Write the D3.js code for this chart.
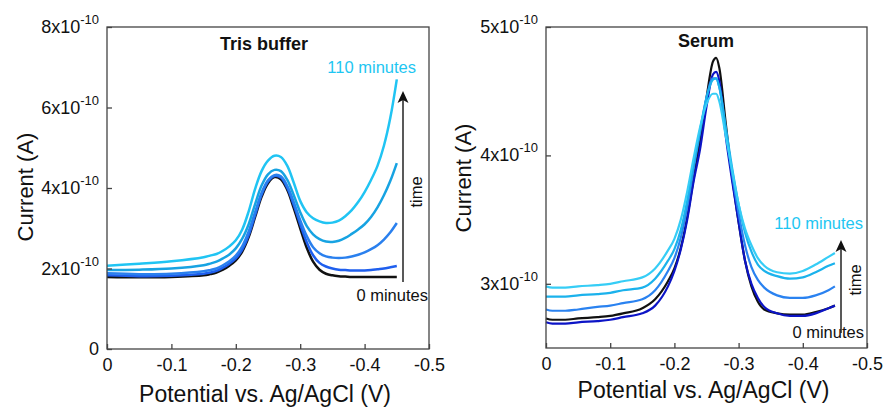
<!DOCTYPE html>
<html><head><meta charset="utf-8">
<script src="https://cdn.jsdelivr.net/npm/d3@7"></script>
<style>body{margin:0;background:#fff} svg{display:block;font-family:"Liberation Sans",Arial,sans-serif}</style>
</head><body><svg id="c" width="883" height="407"></svg>
<script>
// ---------- DATA (currents in units of 1e-10 A, potentials in V) ----------
const trisPotential = [0,-0.05,-0.1,-0.15,-0.16,-0.17,-0.18,-0.19,-0.2,-0.21,-0.22,-0.23,-0.24,-0.25,-0.26,-0.27,-0.28,-0.29,-0.3,-0.31,-0.32,-0.33,-0.34,-0.35,-0.36,-0.37,-0.38,-0.39,-0.4,-0.41,-0.42,-0.43,-0.44,-0.45];
const tris0min   = [1.79,1.78,1.79,1.83,1.86,1.90,1.97,2.07,2.20,2.42,2.78,3.28,3.78,4.12,4.27,4.22,3.95,3.50,3.00,2.52,2.17,1.97,1.87,1.83,1.81,1.80,1.79,1.79,1.79,1.79,1.79,1.79,1.79,1.79];
const trisT2     = [1.83,1.81,1.82,1.87,1.90,1.94,2.02,2.12,2.25,2.47,2.83,3.33,3.83,4.16,4.30,4.26,4.00,3.58,3.10,2.66,2.33,2.14,2.05,2.00,1.97,1.96,1.95,1.95,1.95,1.96,1.98,2.00,2.03,2.06];
const trisT3     = [1.88,1.86,1.87,1.93,1.96,2.00,2.08,2.18,2.32,2.55,2.92,3.40,3.88,4.19,4.32,4.29,4.05,3.65,3.20,2.81,2.53,2.38,2.30,2.27,2.26,2.27,2.30,2.34,2.40,2.48,2.58,2.72,2.90,3.13];
const trisT4     = [1.96,1.97,2.00,2.08,2.12,2.17,2.25,2.35,2.50,2.74,3.10,3.60,4.06,4.34,4.45,4.42,4.20,3.82,3.40,3.06,2.85,2.73,2.67,2.66,2.69,2.76,2.86,2.97,3.10,3.28,3.52,3.82,4.18,4.62];
const tris110min = [2.07,2.12,2.18,2.28,2.32,2.36,2.44,2.55,2.70,2.97,3.42,3.98,4.42,4.68,4.80,4.77,4.55,4.13,3.68,3.40,3.25,3.17,3.13,3.14,3.19,3.30,3.45,3.65,3.90,4.20,4.55,5.05,5.75,6.70];

const serumPotential = [0,-0.01,-0.03,-0.05,-0.08,-0.1,-0.12,-0.15,-0.17,-0.19,-0.2,-0.21,-0.22,-0.23,-0.24,-0.25,-0.26,-0.265,-0.27,-0.28,-0.29,-0.3,-0.31,-0.32,-0.33,-0.34,-0.36,-0.38,-0.4,-0.42,-0.44,-0.45];
const serum0min   = [2.73,2.72,2.72,2.73,2.74,2.75,2.77,2.81,2.88,3.02,3.12,3.28,3.52,3.82,4.12,4.45,4.73,4.76,4.68,4.25,3.83,3.48,3.18,2.98,2.86,2.80,2.77,2.76,2.76,2.78,2.81,2.83];
const serumT2     = [2.70,2.69,2.69,2.70,2.71,2.72,2.74,2.77,2.83,2.98,3.10,3.27,3.50,3.80,4.05,4.38,4.63,4.65,4.58,4.15,3.80,3.48,3.18,3.00,2.89,2.82,2.77,2.75,2.75,2.77,2.81,2.83];
const serumT3     = [2.80,2.79,2.79,2.80,2.82,2.83,2.85,2.88,2.95,3.10,3.20,3.36,3.60,3.90,4.18,4.45,4.60,4.60,4.53,4.20,3.85,3.55,3.30,3.13,3.03,2.97,2.91,2.89,2.89,2.91,2.95,2.98];
const serumT4     = [2.90,2.90,2.90,2.91,2.92,2.93,2.95,2.97,3.04,3.18,3.27,3.42,3.65,3.93,4.20,4.45,4.59,4.60,4.53,4.22,3.90,3.62,3.40,3.25,3.15,3.10,3.06,3.04,3.05,3.09,3.14,3.16];
const serum110min = [2.98,2.97,2.97,2.98,2.99,3.00,3.02,3.05,3.12,3.26,3.35,3.50,3.72,3.98,4.22,4.40,4.48,4.48,4.42,4.15,3.88,3.62,3.43,3.30,3.20,3.14,3.09,3.08,3.10,3.15,3.21,3.24];

const xTicks = [0,-0.1,-0.2,-0.3,-0.4,-0.5];
const xTickLabels = ["0","-0.1","-0.2","-0.3","-0.4","-0.5"];
const trisYTicks = [0,2,4,6,8];
const trisYTickLabels = ["0","2","4","6","8"];
const serumYTicks = [3,4,5];
const serumYTickLabels = ["3","4","5"];

// ---------- STYLES ----------
const trisColors  = ["#111111","#1f5fee","#2a80ee","#17a3e2","#20c4f3"];
const serumColors = ["#111111","#0c14c6","#2a82f0","#1bb2ec","#36cdf6"];
const cyanText = "#1ec6f2";

const svg = d3.select("#c");

function panel(o){
  const g = svg.append("g");
  const x = d3.scaleLinear().domain([0,-0.5]).range([o.x0,o.x1]);
  const y = d3.scaleLinear().domain(o.yDomain).range([o.y0,o.y1]);
  const line = d3.line().x((d,i)=>x(o.pot[i])).y(d=>y(d)).curve(o.curve);
  o.series.forEach((s,i)=>{
    g.append("path").attr("d",line(s)).attr("fill","none")
     .attr("stroke",o.colors[i]).attr("stroke-width",o.lw).attr("stroke-linejoin","round");
  });
  g.append("rect").attr("x",o.x0).attr("y",o.y1).attr("width",o.x1-o.x0).attr("height",o.y0-o.y1)
   .attr("fill","none").attr("stroke","#444").attr("stroke-width",1.3);
  const xa = g.append("g").attr("transform",`translate(0,${o.y0})`)
    .call(d3.axisBottom(x).tickValues(xTicks).tickSizeInner(-5).tickSizeOuter(0).tickPadding(9)
      .tickFormat((d,i)=>xTickLabels[i]));
  xa.select(".domain").remove();
  xa.selectAll("line").attr("stroke","#444").attr("stroke-width",1.3);
  xa.selectAll("text").attr("font-size",18).attr("fill","#111").attr("font-family","Liberation Sans, Arial, sans-serif");
  const ya = g.append("g").attr("transform",`translate(${o.x0},0)`)
    .call(d3.axisLeft(y).tickValues(o.yTicks).tickSizeInner(-5).tickSizeOuter(0).tickFormat(""));
  ya.select(".domain").remove();
  ya.selectAll("line").attr("stroke","#444").attr("stroke-width",1.3);
  o.yTicks.forEach((t,i)=>{
    const tx = g.append("text").attr("x",o.x0-8).attr("y",y(t)+6).attr("text-anchor","end")
      .attr("font-size",18).attr("fill","#111");
    if(t===0){ tx.text(o.yLabels[i]); }
    else {
      tx.append("tspan").text(o.yLabels[i]+"x10");
      tx.append("tspan").attr("dy",-9).attr("font-size",13).text("-10");
    }
  });
  g.append("text").attr("x",(o.x0+o.x1)/2-3).attr("y",o.xTitleY).attr("text-anchor","middle")
   .attr("font-size",23).attr("fill","#111").text("Potential vs. Ag/AgCl (V)");
  g.append("text").attr("transform",`translate(${o.yTitleX},${o.yTitleCY}) rotate(-90)`)
   .attr("text-anchor","middle").attr("font-size",22).attr("fill","#111").text("Current (A)");
  g.append("text").attr("x",o.titleX).attr("y",o.titleY).attr("text-anchor","middle")
   .attr("font-size",18).attr("font-weight","bold").attr("fill","#111").text(o.title);
  g.append("text").attr("x",o.topLblX).attr("y",o.topLblY).attr("text-anchor","end")
   .attr("font-size",16.5).attr("fill",cyanText).text("110 minutes");
  g.append("text").attr("x",o.botLblX).attr("y",o.botLblY).attr("text-anchor","end")
   .attr("font-size",16.5).attr("fill","#111").text("0 minutes");
  g.append("line").attr("x1",o.arX).attr("x2",o.arX).attr("y1",o.arBot).attr("y2",o.arTop+6)
   .attr("stroke","#222").attr("stroke-width",1.5);
  g.append("path").attr("d",`M${o.arX},${o.arTop} L${o.arX+5.5},${o.arTop+12} L${o.arX},${o.arTop+9} L${o.arX-5.5},${o.arTop+12} Z`)
   .attr("fill","#111");
  g.append("text").attr("transform",`translate(${o.timeX},${o.timeY}) rotate(-90)`)
   .attr("text-anchor","middle").attr("font-size",16.5).attr("fill","#111").text("time");
}

panel({x0:107,x1:429,y0:349,y1:27,yDomain:[0,8],pot:trisPotential,curve:d3.curveCatmullRom.alpha(0.5),
  series:[tris0min,trisT2,trisT3,trisT4,tris110min],colors:trisColors,lw:2.5,
  yTicks:trisYTicks,yLabels:trisYTickLabels,xTitleY:402,yTitleX:33,yTitleCY:187,
  title:"Tris buffer",titleX:264,titleY:50,
  topLblX:416,topLblY:73,botLblX:428,botLblY:301,arX:403,arTop:91,arBot:282,timeX:422,timeY:192});

panel({x0:546,x1:867,y0:348,y1:27,yDomain:[2.5,5],pot:serumPotential,curve:d3.curveMonotoneX,
  series:[serum0min,serumT2,serumT3,serumT4,serum110min],colors:serumColors,lw:2.2,
  yTicks:serumYTicks,yLabels:serumYTickLabels,xTitleY:398,yTitleX:471,yTitleCY:178,
  title:"Serum",titleX:706,titleY:47,
  topLblX:863,topLblY:229,botLblX:864,botLblY:338,arX:841,arTop:240,arBot:333,timeX:861,timeY:280});
</script></body></html>
